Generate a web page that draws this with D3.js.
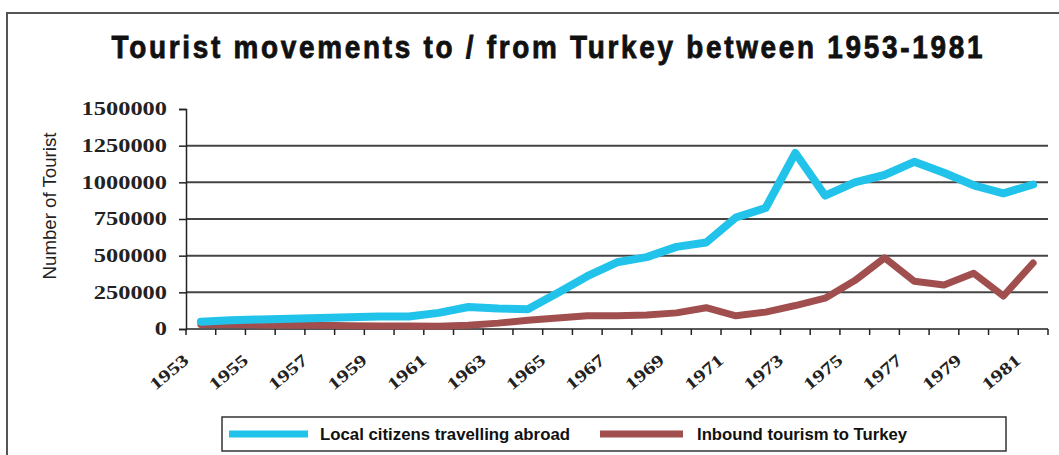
<!DOCTYPE html>
<html><head><meta charset="utf-8">
<script src="https://cdn.jsdelivr.net/npm/d3@7"></script>
<style>body{margin:0;background:#fff;} svg{display:block}</style>
</head><body>
<svg id="c" width="1059" height="455"></svg>
<script>
const years = [1953,1954,1955,1956,1957,1958,1959,1960,1961,1962,1963,1964,1965,1966,1967,1968,1969,1970,1971,1972,1973,1974,1975,1976,1977,1978,1979,1980,1981];
const localAbroad = [50000,60000,65000,70000,75000,80000,85000,85000,110000,150000,140000,135000,245000,360000,455000,490000,560000,590000,760000,825000,1200000,910000,1000000,1050000,1140000,1065000,980000,925000,985000];
const inbound = [30000,30000,28000,25000,25000,22000,20000,20000,18000,25000,40000,60000,75000,90000,90000,95000,110000,145000,90000,115000,160000,210000,330000,485000,325000,300000,380000,225000,450000];
const yTicks = [0,250000,500000,750000,1000000,1250000,1500000];
const xLabels = [1953,1955,1957,1959,1961,1963,1965,1967,1969,1971,1973,1975,1977,1979,1981];
const seriesNames = ["Local citizens travelling abroad","Inbound tourism to Turkey"];
const seriesColors = ["#22C3EA","#A04F4E"];
const titleText = "Tourist movements to / from Turkey between 1953-1981";
const yTitle = "Number of Tourist";

const sans = "'Liberation Sans Narrow','Arial Narrow','Liberation Sans',Arial,sans-serif";
const serif = "'Liberation Serif','Times New Roman',serif";

const svg = d3.select("#c");
svg.append("rect").attr("x",7).attr("y",13).attr("width",1100).attr("height",600)
  .attr("fill","#fff").attr("stroke","#555").attr("stroke-width",2);

const x = d3.scaleBand().domain(years).range([186,1048]).padding(0);
const bw = x.bandwidth();
const y = d3.scaleLinear().domain([0,1500000]).range([329,109]);

// condensed text helper: horizontally squeezed glyphs, width fitted
function narrowText(parent, tx, ty, rot, sx, size, weight, anchor, len, str, spacingOnly){
  const g = parent.append("g").attr("transform",`translate(${tx},${ty}) rotate(${rot}) scale(${sx},1)`);
  return g.append("text").attr("x",0).attr("y",0).attr("text-anchor",anchor)
    .attr("font-family",sans).attr("font-weight",weight).attr("font-size",size).attr("fill","#111")
    .attr("textLength",len/sx).attr("lengthAdjust",spacingOnly?"spacing":"spacingAndGlyphs").text(str);
}

// title
narrowText(svg, 547, 58, 0, 0.9, 31, "bold", "middle", 871, titleText, true)
  .attr("stroke","#111").attr("stroke-width",0.8);

// gridlines
svg.append("g").selectAll("line").data(yTicks.filter(d=>d>0 && d<1500000)).join("line")
  .attr("x1",186).attr("x2",1048).attr("y1",d=>y(d)).attr("y2",d=>y(d))
  .attr("stroke","#444").attr("stroke-width",2);

// y axis
const yAxis = svg.append("g").attr("transform","translate(186,0)")
  .call(d3.axisLeft(y).tickValues(yTicks).tickSize(7).tickPadding(12).tickFormat(d=>String(d)));
yAxis.select(".domain").attr("stroke","#222").attr("stroke-width",1.5);
yAxis.selectAll(".tick line").attr("stroke","#222").attr("stroke-width",1.5);
yAxis.selectAll("text").attr("font-family",serif).attr("font-weight","bold").attr("font-size",18).attr("fill","#222")
  .attr("textLength",d=>String(d).length*12.2).attr("lengthAdjust","spacingAndGlyphs");

// y title
narrowText(svg, 56, 206, -90, 0.8, 19, "normal", "middle", 147, yTitle, false).attr("fill","#222");

// x axis
const xg = svg.append("g");
xg.append("line").attr("x1",186).attr("x2",1048).attr("y1",y(0)).attr("y2",y(0)).attr("stroke","#222").attr("stroke-width",1.5);
const bounds = years.map(d=>x(d)).concat([x(years[years.length-1])+bw]);
xg.selectAll("line.t").data(bounds).join("line").attr("class","t")
  .attr("x1",d=>d).attr("x2",d=>d).attr("y1",y(0)).attr("y2",y(0)+6).attr("stroke","#222").attr("stroke-width",1.5);
xg.selectAll("text").data(xLabels).join("text")
  .attr("transform",d=>`translate(${x(d)+bw/2-11},${y(0)+33}) rotate(-40)`)
  .attr("text-anchor","end").attr("font-family",serif).attr("font-weight","bold").attr("font-size",17).attr("fill","#222")
  .attr("textLength",45).attr("lengthAdjust","spacingAndGlyphs").text(d=>d);

// lines
const line = d3.line().x((d,i)=>x(years[i])+bw/2).y(d=>y(d));
svg.append("path").datum(inbound).attr("d",line).attr("fill","none").attr("stroke",seriesColors[1])
  .attr("stroke-width",7).attr("stroke-linejoin","round").attr("stroke-linecap","round");
svg.append("path").datum(localAbroad).attr("d",line).attr("fill","none").attr("stroke",seriesColors[0])
  .attr("stroke-width",8).attr("stroke-linejoin","round").attr("stroke-linecap","round");

// legend
const lg = svg.append("g");
lg.append("rect").attr("x",222).attr("y",417).attr("width",784).attr("height",34)
  .attr("fill","#fff").attr("stroke","#333").attr("stroke-width",1.5);
const legItems = [
  {name:seriesNames[0], color:seriesColors[0], x1:229, x2:308, tx:320, tl:250},
  {name:seriesNames[1], color:seriesColors[1], x1:600, x2:683, tx:697, tl:210}
];
legItems.forEach(it=>{
  lg.append("line").attr("x1",it.x1).attr("x2",it.x2).attr("y1",434).attr("y2",434)
    .attr("stroke",it.color).attr("stroke-width",7);
  narrowText(lg, it.tx, 440, 0, 0.72, 17, "bold", "start", it.tl, it.name, false);
});
</script>
</body></html>
